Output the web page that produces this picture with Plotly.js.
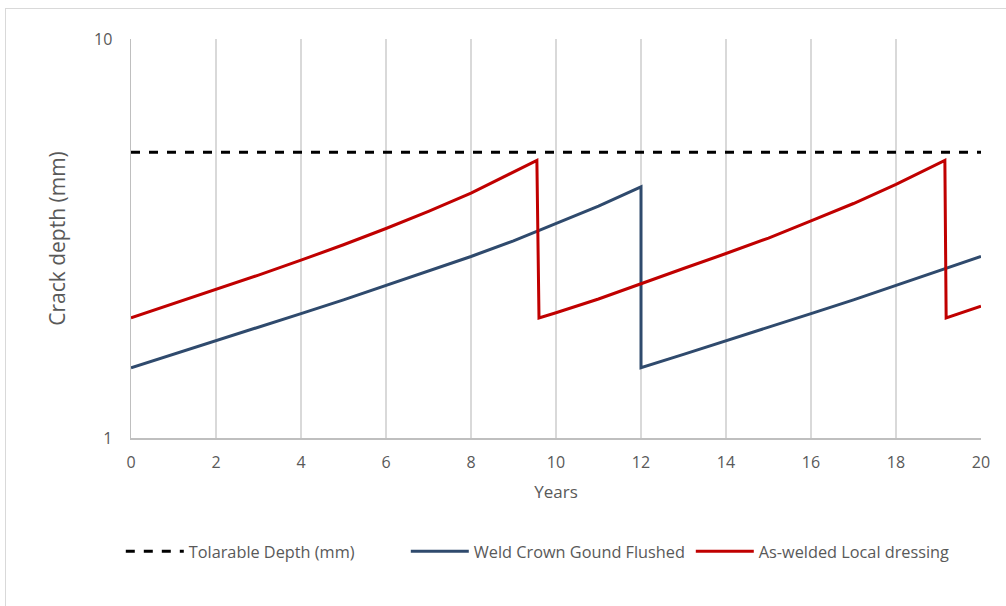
<!DOCTYPE html>
<html>
<head>
<meta charset="utf-8">
<script src="https://cdn.plot.ly/plotly-3.0.1.min.js"></script>
<style>
  html, body { margin: 0; padding: 0; background: #ffffff; overflow: hidden; }
  #chart { width: 1006px; height: 606px; position: absolute; left: 0; top: 0; }
  #frame { position: absolute; left: 5px; top: 8px; width: 1020px; height: 620px;
           border: 1.5px solid #d9d9d9; pointer-events: none; }
</style>
</head>
<body>
<div id="chart"></div>
<div id="frame"></div>
<script>
// ---- data ----
const tolYears = [0, 20];
const tolDepth = [5.2, 5.2];

const flushYears = [0, 1, 2, 3, 4, 5, 6, 7, 8, 9, 10, 11, 12, 12, 13, 14, 15, 16, 17, 18, 19, 20];
const flushDepth = [1.50, 1.62, 1.75, 1.89, 2.05, 2.22, 2.41, 2.62, 2.85, 3.12, 3.45, 3.81, 4.26,
                    1.50, 1.62, 1.75, 1.89, 2.05, 2.22, 2.41, 2.62, 2.85];

const dressYears = [0, 1, 2, 3, 4, 5, 6, 7, 8, 9, 9.55, 9.6, 10, 11, 12, 13, 14, 15, 16, 17, 18, 19, 19.15, 19.18, 20];
const dressDepth = [2.00, 2.17, 2.35, 2.56, 2.79, 3.05, 3.35, 3.70, 4.11, 4.63, 4.96, 2.00,
                    2.06, 2.23, 2.43, 2.66, 2.90, 3.17, 3.50, 3.87, 4.32, 4.87, 4.96, 2.00, 2.14];

const seriesNames = ['Tolarable Depth (mm)', 'Weld Crown Gound Flushed', 'As-welded Local dressing'];
const xTicks = [0, 2, 4, 6, 8, 10, 12, 14, 16, 18, 20];
const yTicks = [1, 10];

const FONT = '"Open Sans", "Noto Sans", sans-serif';
const GREY = '#595959';

const traces = [
  { x: tolYears, y: tolDepth, name: seriesNames[0], type: 'scatter', mode: 'lines',
    line: { color: '#000000', width: 3, dash: 'dash' } },
  { x: flushYears, y: flushDepth, name: seriesNames[1], type: 'scatter', mode: 'lines',
    line: { color: '#2F4A6D', width: 3 } },
  { x: dressYears, y: dressDepth, name: seriesNames[2], type: 'scatter', mode: 'lines',
    line: { color: '#C00000', width: 3 } }
];

const layout = {
  width: 1006, height: 606,
  margin: { l: 131, r: 25, t: 39, b: 168 },
  paper_bgcolor: '#ffffff', plot_bgcolor: '#ffffff',
  font: { family: FONT, color: GREY, size: 16 },
  showlegend: true,
  legend: { orientation: 'h', x: -0.012, xanchor: 'left', y: -0.285, yanchor: 'middle',
            font: { family: FONT, size: 16.3, color: GREY }, itemwidth: 58,
            entrywidth: 212, entrywidthmode: 'pixels', traceorder: 'normal' },
  xaxis: {
    range: [0, 20], tickvals: xTicks, ticktext: xTicks.map(String),
    showgrid: true, gridcolor: '#d9d9d9', gridwidth: 1.5,
    showline: true, linecolor: '#bfbfbf', linewidth: 1.5,
    ticks: 'outside', ticklen: 9, tickcolor: 'rgba(0,0,0,0)',
    tickfont: { family: FONT, size: 16, color: GREY },
    zeroline: false,
    title: { text: 'Years', font: { family: FONT, size: 17, color: GREY }, standoff: 14 }
  },
  yaxis: {
    type: 'log', range: [0, 1], tickvals: yTicks, ticktext: yTicks.map(String),
    showgrid: true, gridcolor: '#d9d9d9', gridwidth: 1.5,
    showline: true, linecolor: '#bfbfbf', linewidth: 1.5,
    ticks: 'outside', ticklen: 14, tickcolor: 'rgba(0,0,0,0)',
    tickfont: { family: FONT, size: 16, color: GREY },
    zeroline: false,
    title: { text: 'Crack depth (mm)', font: { family: FONT, size: 21, color: GREY }, standoff: 22 }
  }
};

Plotly.newPlot('chart', traces, layout, { displayModeBar: false, staticPlot: true });
</script>
</body>
</html>
